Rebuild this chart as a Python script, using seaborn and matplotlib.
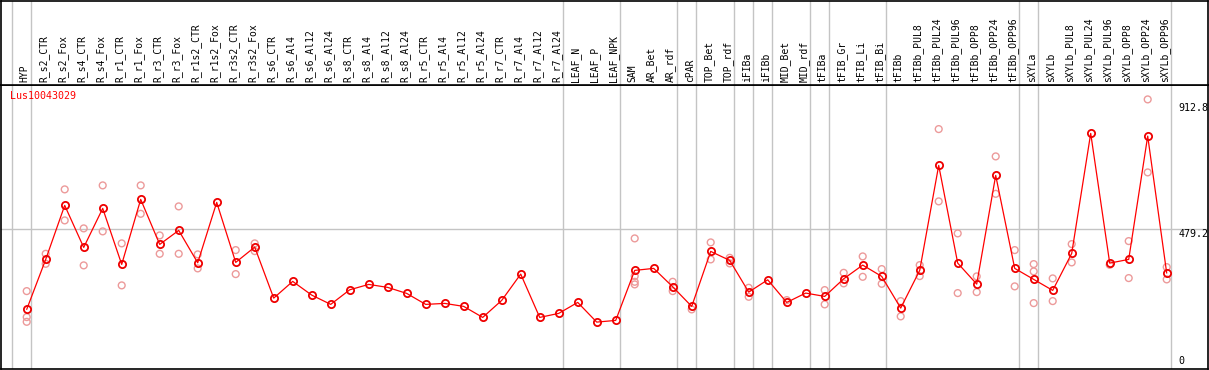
import matplotlib
matplotlib.use('Agg')
import matplotlib.pyplot as plt
import seaborn as sns
import pandas as pd

categories = [
    "HYP", "R_s2_CTR", "R_s2_Fox", "R_s4_CTR", "R_s4_Fox", "R_r1_CTR", "R_r1_Fox",
    "R_r3_CTR", "R_r3_Fox", "R_r1s2_CTR", "R_r1s2_Fox", "R_r3s2_CTR", "R_r3s2_Fox",
    "R_s6_CTR", "R_s6_Al4", "R_s6_Al12", "R_s6_Al24", "R_s8_CTR", "R_s8_Al4",
    "R_s8_Al12", "R_s8_Al24", "R_r5_CTR", "R_r5_Al4", "R_r5_Al12", "R_r5_Al24",
    "R_r7_CTR", "R_r7_Al4", "R_r7_Al12", "R_r7_Al24", "LEAF_N", "LEAF_P", "LEAF_NPK",
    "SAM", "AR_Bet", "AR_rdf", "cPAR", "TOP_Bet", "TOP_rdf", "iFIBa", "iFIBb",
    "MID_Bet", "MID_rdf", "tFIBa", "tFIB_Gr", "tFIB_Li", "tFIB_Bi", "tFIBb",
    "tFIBb_PUL8", "tFIBb_PUL24", "tFIBb_PUL96", "tFIBb_OPP8", "tFIBb_OPP24",
    "tFIBb_OPP96", "sXYLa", "sXYLb", "sXYLb_PUL8", "sXYLb_PUL24", "sXYLb_PUL96",
    "sXYLb_OPP8", "sXYLb_OPP24", "sXYLb_OPP96",
]

means = [
    204.6, 376.2, 561.6, 417.4, 551.3, 359.1, 582.2, 427.7, 475.8, 364.6,
    571.9, 366.0, 418.5, 243.4, 300.7, 253.7, 221.8, 271.9, 290.4, 280.1,
    259.5, 221.8, 225.2, 214.9, 177.1, 235.5, 325.8, 177.1, 190.9, 228.6,
    161.0, 166.8, 338.5, 345.4, 282.2, 214.9, 403.7, 372.8, 264.0, 306.2,
    228.6, 260.6, 249.2, 309.7, 356.7, 317.9, 209.1, 338.5, 698.9, 363.5,
    291.5, 664.6, 345.4, 307.6, 269.8, 396.8, 808.8, 363.5, 376.2, 799.5,
    329.2,
]

replicates = [
    [267.4, 178.2, 162.0], [395.5, 361.1], [616.6, 510.1], [482.7, 355.7],
    [630.3, 472.4], [431.2, 287.0], [630.3, 532.8], [458.6, 395.5],
    [558.2, 395.5], [393.4, 345.4], [], [408.2, 325.8], [431.2, 404.7],
    [], [], [], [], [], [], [], [], [], [], [], [], [], [], [], [], [], [], [],
    [448.3, 318.9, 299.4, 290.4], [], [299.4, 267.4], [204.6],
    [434.6, 376.2], [381.7, 362.5], [278.8, 247.9], [], [236.5], [],
    [270.9, 221.8], [330.2, 293.9], [386.5, 316.5], [343.0, 292.5],
    [233.1, 180.6], [356.7, 318.9], [823.6, 575.4], [465.5, 260.6],
    [317.9, 264.0], [729.8, 601.4], [408.2, 283.6], [360.1, 335.0, 226.2],
    [311.0, 233.1], [428.8, 365.9], [], [357.7], [439.1, 312.1],
    [925.5, 674.9], [349.8, 307.6],
]

separators_after = [-1, 0, 28, 31, 34, 35, 37, 38, 39, 41, 42, 45, 52, 53, 60]
gene_label = "Lus10043029"
ytick_values = [912.8, 479.2, 0]
ytick_labels = ["912.8", "479.2", "0"]

sns.set_theme(style="white")
plt.rcParams["font.family"] = ["DejaVu Sans Mono", "DejaVu Sans"]

W, H = 1209, 370
fig = plt.figure(figsize=(W / 100, H / 100), dpi=100)
ax = fig.add_axes([1 / W, 1 / H, 1207 / W, 284 / H])
axh = fig.add_axes([1 / W, 285 / H, 1207 / W, 84.5 / H])

xmin = -1.353
xmax = xmin + 1207 / 19
ymax = 284 / 0.2913

df_mean = pd.DataFrame({"pos": list(range(len(categories))), "value": means})
rep_pos, rep_val = [], []
for i, vals in enumerate(replicates):
    for v in vals:
        rep_pos.append(i)
        rep_val.append(v)
df_rep = pd.DataFrame({"pos": rep_pos, "value": rep_val})

grid_col = "#c4c4c4"
for s in separators_after:
    ax.axvline(s + 0.21, color=grid_col, lw=1.0, zorder=0)
    axh.axvline(s + 0.21, color=grid_col, lw=1.0, zorder=0)
ax.axhline(479.2, color=grid_col, lw=1.0, zorder=0)

pink = "#ec9a9a"
sns.scatterplot(data=df_rep, x="pos", y="value", ax=ax, s=24, marker="o",
                color=pink, linewidth=1.0, zorder=2, legend=False)
coll = ax.collections[-1]
coll.set_facecolor("none")
coll.set_edgecolor(pink)

sns.lineplot(data=df_mean, x="pos", y="value", ax=ax, color="#ff0000", lw=0.9,
             marker="o", markersize=5.2, markerfacecolor="none",
             markeredgecolor="#ee0000", markeredgewidth=1.3, zorder=3)

for a in (ax, axh):
    a.set_xlim(xmin, xmax)
    a.set_xticks([])
    a.set_yticks([])
    a.set_xlabel("")
    a.set_ylabel("")
    for sp in a.spines.values():
        sp.set_color("black")
        sp.set_linewidth(1.2)
ax.set_ylim(0, ymax)
axh.set_ylim(0, 1)

for i, lab in enumerate(categories):
    axh.text(i - 0.1, 3 / 84.5, lab, rotation=90, ha="center", va="bottom",
             fontsize=7, color="black")

ax.text(9 / 1207, 1 - 10.7 / 284, gene_label, transform=ax.transAxes,
        ha="left", va="center", fontsize=7.2, color="#ff0000")

ytr = ax.get_yaxis_transform()
for v, lab in zip(ytick_values, ytick_labels):
    if v == 0:
        ax.text(1177.5 / 1207, 10, lab, transform=ytr, ha="left", va="bottom",
                fontsize=7.2, color="black")
    else:
        ax.text(1177.5 / 1207, v, lab, transform=ytr, ha="left", va="top",
                fontsize=7.2, color="black")

fig.savefig("out.png", dpi=100)
